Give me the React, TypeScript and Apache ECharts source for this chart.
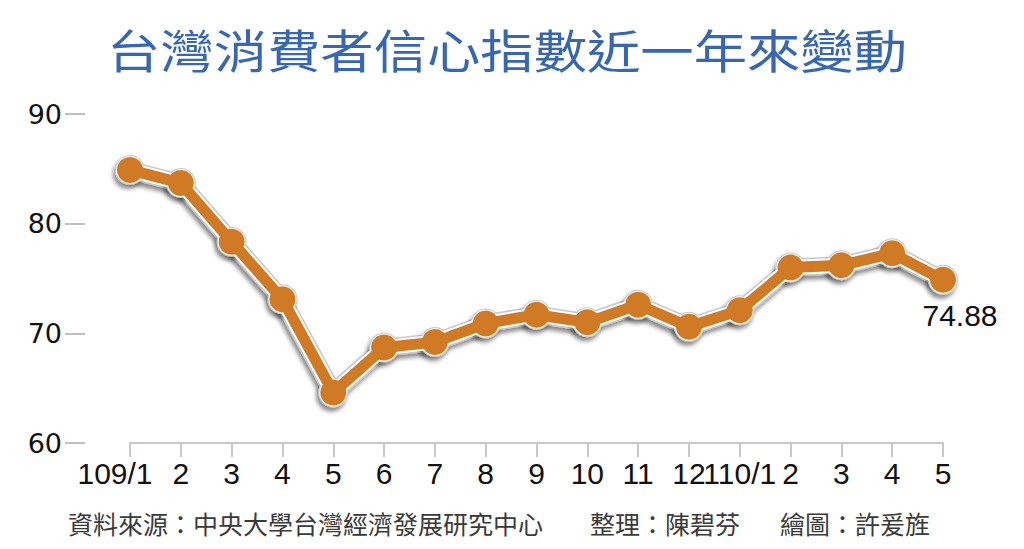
import React, { useEffect, useRef } from "react";
import * as echarts from "echarts";

const months = ["109/1", "2", "3", "4", "5", "6", "7", "8", "9", "10", "11", "12", "110/1", "2", "3", "4", "5"];
const cci = [84.9, 83.7, 78.35, 73.1, 64.6, 68.7, 69.2, 70.9, 71.7, 71.0, 72.6, 70.6, 72.1, 76.0, 76.2, 77.3, 74.88];
const yTicks = [60, 70, 80, 90];
const titleText = "台灣消費者信心指數近一年來變動";
const footerSource = "資料來源：中央大學台灣經濟發展研究中心";
const footerEditor = "整理：陳碧芬";
const footerArtist = "繪圖：許爰旌";

const latin = "'Liberation Sans', Arial, sans-serif";
const cjk = "'Noto Sans CJK TC', sans-serif";

export default function App() {
  const ref = useRef<HTMLDivElement>(null);
  useEffect(() => {
    document.body.style.margin = "0";
    if (!ref.current) return;
    const chart = echarts.init(ref.current, null, { renderer: "svg" });
    const lastIdx = cci.length - 1;
    const orangeData = cci.map((v, i) =>
      i === lastIdx
        ? {
            value: v,
            label: {
              show: true,
              position: "inside",
              offset: [17, 36],
              formatter: (p: any) => p.value.toFixed(2),
              fontSize: 30,
              color: "#111",
              fontFamily: latin,
            },
          }
        : v
    );
    const footerStyle = (text: string) => ({
      text,
      fontSize: 25,
      fontFamily: cjk,
      fill: "#3a3a3a",
      textAlign: "left",
      textVerticalAlign: "middle",
    });
    chart.setOption({
      animation: false,
      backgroundColor: "#ffffff",
      grid: { left: 130, right: 81, top: 114, bottom: 106, containLabel: false },
      graphic: [
        {
          type: "text",
          x: 507,
          y: 48,
          scaleX: 1.16,
          scaleY: 1,
          style: {
            text: titleText,
            fontSize: 46,
            fontFamily: cjk,
            fill: "#3766b3",
            textAlign: "center",
            textVerticalAlign: "middle",
          },
        },
        { type: "text", x: 68, y: 523, style: footerStyle(footerSource) },
        { type: "text", x: 590, y: 523, style: footerStyle(footerEditor) },
        { type: "text", x: 780, y: 523, style: footerStyle(footerArtist) },
      ],
      xAxis: {
        type: "category",
        data: months,
        boundaryGap: false,
        axisLine: { show: true, lineStyle: { color: "#c8c8c8", width: 2 } },
        axisTick: { show: true, alignWithLabel: true, length: 14, lineStyle: { color: "#c8c8c8", width: 2 } },
        axisLabel: {
          interval: 0,
          margin: 15,
          fontSize: 30,
          color: "#111",
          fontFamily: latin,
          formatter: (val: string, idx: number) => (idx === 0 ? `{first|${val}}` : val),
          rich: {
            first: { fontSize: 30, color: "#111", fontFamily: latin, padding: [0, 30, 0, 0] },
          },
        },
        splitLine: { show: false },
      },
      yAxis: {
        type: "value",
        min: yTicks[0],
        max: yTicks[yTicks.length - 1],
        interval: 10,
        offset: 45,
        axisLine: { show: false },
        axisTick: { show: true, length: 20, lineStyle: { color: "#c0c0c0", width: 2 } },
        axisLabel: {
          margin: 23,
          fontSize: 27,
          color: "#111",
          fontFamily: "'DejaVu Sans', sans-serif",
        },
        splitLine: { show: false },
      },
      series: [
        {
          type: "line",
          data: cci,
          z: 1,
          symbol: "circle",
          symbolSize: 30,
          itemStyle: {
            color: "#c8c8c8",
            shadowColor: "rgba(0,0,0,0.45)",
            shadowBlur: 4,
            shadowOffsetX: -2,
            shadowOffsetY: 4,
          },
          lineStyle: {
            color: "#c8c8c8",
            width: 18,
            shadowColor: "rgba(0,0,0,0.45)",
            shadowBlur: 4,
            shadowOffsetX: -2,
            shadowOffsetY: 4,
          },
          silent: true,
        },
        {
          type: "line",
          data: cci,
          z: 2,
          symbol: "circle",
          symbolSize: 28,
          itemStyle: { color: "#ffffff" },
          lineStyle: { color: "#ffffff", width: 15 },
          silent: true,
        },
        {
          type: "line",
          data: orangeData,
          z: 3,
          symbol: "circle",
          symbolSize: 26,
          itemStyle: { color: "#d07a25" },
          lineStyle: { color: "#d07a25", width: 11 },
        },
      ],
    });
    return () => chart.dispose();
  }, []);
  return <div ref={ref} style={{ width: 1024, height: 549 }} />;
}
